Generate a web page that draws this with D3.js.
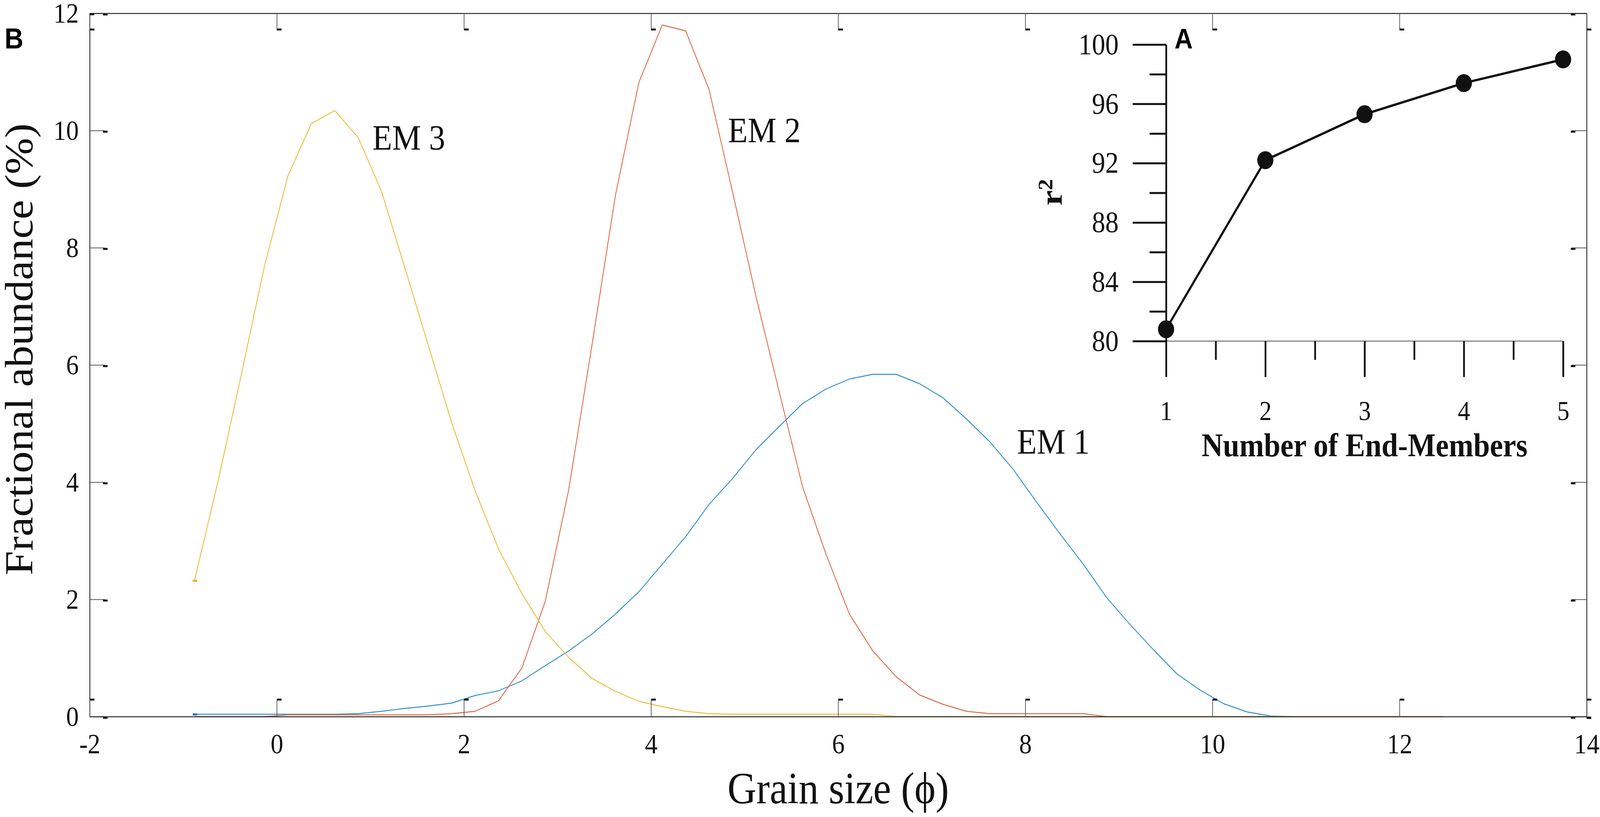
<!DOCTYPE html>
<html>
<head>
<meta charset="utf-8">
<script src="https://cdn.jsdelivr.net/npm/d3@7"></script>
<style>
  html, body { margin: 0; padding: 0; background: #fff; overflow: hidden; }
  .graph_area { width: 100vw; height: 100vh; }
  .graph_area text { font-family: "Liberation Serif", "Times New Roman", serif; }
</style>
</head>
<body>
<div class="graph_area"></div>
<script>
// grain size grid (phi)
const grainSize = [-0.88, -0.63, -0.38, -0.13, 0.12, 0.37, 0.62, 0.87, 1.12, 1.37,
  1.62, 1.87, 2.12, 2.37, 2.62, 2.87, 3.12, 3.37, 3.62, 3.87,
  4.12, 4.37, 4.62, 4.87, 5.12, 5.37, 5.62, 5.87, 6.12, 6.37,
  6.62, 6.87, 7.12, 7.37, 7.62, 7.87, 8.12, 8.37, 8.62, 8.87,
  9.12, 9.37, 9.62, 9.87, 10.12, 10.37, 10.62, 10.87, 11.12, 11.37,
  11.62, 11.87, 12.12, 12.47]

const em1 = [0.04, 0.04, 0.04, 0.04, 0.04, 0.04, 0.04, 0.05, 0.09, 0.14,
  0.18, 0.23, 0.36, 0.44, 0.61, 0.87, 1.12, 1.41, 1.75, 2.13,
  2.60, 3.07, 3.62, 4.06, 4.55, 4.95, 5.34, 5.59, 5.76, 5.84,
  5.84, 5.68, 5.44, 5.08, 4.69, 4.22, 3.66, 3.12, 2.60, 2.03,
  1.57, 1.14, 0.73, 0.45, 0.22, 0.08, 0.01, 0, 0, 0,
  0, 0, 0, 0]

const em2 = [0, 0, 0, 0, 0.03, 0.03, 0.03, 0.03, 0.03, 0.03,
  0.03, 0.05, 0.09, 0.27, 0.83, 1.97, 3.87, 6.35, 8.9, 10.82,
  11.8, 11.7, 10.7, 8.96, 7.18, 5.54, 3.92, 2.77, 1.75, 1.12,
  0.68, 0.37, 0.21, 0.09, 0.05, 0.05, 0.05, 0.05, 0.05, 0,
  0, 0, 0, 0, 0, 0, 0, 0, 0, 0,
  0, 0, 0, 0]

const em3 = [2.32, 4.00, 5.83, 7.70, 9.23, 10.12, 10.34, 9.88, 8.96, 7.65,
  6.33, 5.01, 3.85, 2.86, 2.10, 1.45, 1.01, 0.65, 0.43, 0.26,
  0.17, 0.09, 0.05, 0.04, 0.04, 0.04, 0.04, 0.04, 0.04, 0.04,
  0, 0, 0, 0, 0, 0, 0, 0, 0, 0,
  0, 0, 0, 0, 0, 0, 0, 0, 0, 0,
  0, 0, 0, 0]

const seriesNames = ["EM 1", "EM 2", "EM 3"]
const seriesColors = ["#2f8fd0", "#de6a45", "#eebb3a"]

const xTicks = [-2, 0, 2, 4, 6, 8, 10, 12, 14]
const yTicks = [0, 2, 4, 6, 8, 10, 12]

// inset (A)
const endMembers = [1, 2, 3, 4, 5]
const rSquared = [80.8, 92.2, 95.3, 97.4, 99.0]
const insetXMajor = [1, 2, 3, 4, 5]
const insetXMinor = [1.5, 2.5, 3.5, 4.5]
const insetYMajor = [80, 84, 88, 92, 96, 100]
const insetYMinor = [82, 86, 90, 94, 98]

const W = 4550, H = 2091

// draw in a fixed 4550x2091 coordinate space, stretched to the window
const svg = d3.select('.graph_area')
  .append('svg')
  .attr('viewBox', `0 0 ${W} ${H}`)
  .attr('preserveAspectRatio', 'none')
  .attr('width', '100%')
  .attr('height', '100%')
  .style('display', 'block')

svg.append('rect').attr('width', W).attr('height', H).attr('fill', '#fff')

const xScale = d3.scaleLinear().domain([-2, 14]).range([255, 4512])
const yScale = d3.scaleLinear().domain([0, 12]).range([1834, 34])

// curves
const series = [em1, em2, em3]
const line = d3.line()
  .x((d, i) => xScale(grainSize[i]))
  .y(d => yScale(d))

svg.append('g').selectAll('path')
  .data(series)
  .join('path')
  .attr('d', d => line(d))
  .attr('fill', 'none')
  .attr('stroke', (d, i) => seriesColors[i])
  .attr('stroke-width', 2.4)
  .attr('stroke-linejoin', 'round')

// small start flags at the first point of each curve
svg.append('g').selectAll('rect')
  .data([em1, em3])
  .join('rect')
  .attr('x', xScale(grainSize[0]) - 5)
  .attr('y', d => yScale(d[0]) - 2)
  .attr('width', 13)
  .attr('height', 5)
  .attr('fill', (d, i) => i === 0 ? '#1f6fb8' : '#e9a820')

// axes box with inward ticks
function styleAxis(g, flagX, flagY) {
  g.select('.domain').attr('stroke', '#2b2b2b').attr('stroke-width', 2.5)
  g.selectAll('.tick line').attr('stroke', '#555').attr('stroke-width', 2)
  g.selectAll('.tick').append('rect')
    .attr('x', flagX).attr('y', flagY)
    .attr('width', 13).attr('height', 5)
    .attr('fill', '#111')
  g.selectAll('.tick text')
    .attr('fill', '#111')
    .style('font-size', '72px')
    .style('font-family', '"Liberation Serif", serif')
}

const gLeft = svg.append('g')
  .attr('transform', `translate(${xScale(-2)},0)`)
  .call(d3.axisLeft(yScale).tickValues(yTicks).tickSize(-43).tickSizeOuter(0).tickPadding(31))
styleAxis(gLeft, 38, 0)

const gRight = svg.append('g')
  .attr('transform', `translate(${xScale(14)},0)`)
  .call(d3.axisRight(yScale).tickValues(yTicks).tickSize(-42).tickSizeOuter(0).tickFormat(''))
styleAxis(gRight, -45, 0)

const gBottom = svg.append('g')
  .attr('transform', `translate(0,${yScale(0)})`)
  .call(d3.axisBottom(xScale).tickValues(xTicks).tickSize(-43).tickSizeOuter(0).tickPadding(43).tickFormat(d3.format('d')))
styleAxis(gBottom, 0, -46)
gBottom.selectAll('.tick text').text(d => d < 0 ? '-' + Math.abs(d) : d)

const gTop = svg.append('g')
  .attr('transform', `translate(0,${yScale(12)})`)
  .call(d3.axisTop(xScale).tickValues(xTicks).tickSize(-43).tickSizeOuter(0).tickFormat(''))
styleAxis(gTop, 0, 39)

// corner flags
svg.append('rect').attr('x', xScale(-2)).attr('y', yScale(12)).attr('width', 13).attr('height', 5).attr('fill', '#111')
svg.append('rect').attr('x', xScale(14)).attr('y', yScale(0)).attr('width', 13).attr('height', 6).attr('fill', '#111')

// axis titles
svg.append('text')
  .attr('transform', 'translate(92,894) rotate(-90)')
  .attr('text-anchor', 'middle')
  .style('font-size', '112px')
  .attr('fill', '#111')
  .text('Fractional abundance (%)')

svg.append('text')
  .attr('x', (xScale(-2) + xScale(14)) / 2)
  .attr('y', 2056)
  .attr('text-anchor', 'middle')
  .style('font-size', '114px')
  .attr('fill', '#111')
  .text('Grain size (\u03D5)')

svg.append('text')
  .attr('x', 13).attr('y', 124)
  .style('font-family', '"Liberation Sans", Arial, sans-serif')
  .style('font-weight', 'bold')
  .style('font-size', '74px')
  .attr('fill', '#000')
  .text('B')

// curve labels
const labelPos = [[2892, 1161], [2070, 364], [1059, 383]]
svg.append('g').selectAll('text')
  .data(seriesNames)
  .join('text')
  .attr('x', (d, i) => labelPos[i][0])
  .attr('y', (d, i) => labelPos[i][1])
  .style('font-size', '92px')
  .attr('fill', '#111')
  .text(d => d)

// ---- inset A ----
const xi = d3.scaleLinear().domain([1, 5]).range([3316, 4445])
const yi = d3.scaleLinear().domain([80, 100]).range([873, 114])

function styleInset(g) {
  g.selectAll('.tick line').attr('stroke', '#111').attr('stroke-width', 5)
  g.selectAll('.tick text')
    .attr('fill', '#111')
    .style('font-family', '"Liberation Serif", serif')
}

// thin baseline
svg.append('line')
  .attr('x1', xi(1)).attr('x2', xi(5))
  .attr('y1', yi(80)).attr('y2', yi(80))
  .attr('stroke', '#555').attr('stroke-width', 2)

const giyMinor = svg.append('g')
  .attr('transform', `translate(${xi(1)},0)`)
  .call(d3.axisLeft(yi).tickValues(insetYMinor).tickSize(47).tickSizeOuter(0).tickFormat(''))
giyMinor.select('.domain').remove()
styleInset(giyMinor)

const giyMajor = svg.append('g')
  .attr('transform', `translate(${xi(1)},0)`)
  .call(d3.axisLeft(yi).tickValues(insetYMajor).tickSize(95).tickSizeOuter(0).tickPadding(40))
giyMajor.select('.domain').attr('stroke', '#111').attr('stroke-width', 5)
styleInset(giyMajor)
giyMajor.selectAll('.tick text').style('font-size', '76px')

const gixMinor = svg.append('g')
  .attr('transform', `translate(0,${yi(80)})`)
  .call(d3.axisBottom(xi).tickValues(insetXMinor).tickSize(48).tickSizeOuter(0).tickFormat(''))
gixMinor.select('.domain').remove()
styleInset(gixMinor)

const gixMajor = svg.append('g')
  .attr('transform', `translate(0,${yi(80)})`)
  .call(d3.axisBottom(xi).tickValues(insetXMajor).tickSize(92).tickSizeOuter(0).tickPadding(60).tickFormat(d3.format('d')))
gixMajor.select('.domain').remove()
styleInset(gixMajor)
gixMajor.selectAll('.tick text').style('font-size', '70px')

const insetLine = d3.line()
  .x((d, i) => xi(endMembers[i]))
  .y(d => yi(d))

svg.append('path')
  .datum(rSquared)
  .attr('d', insetLine)
  .attr('fill', 'none')
  .attr('stroke', '#111')
  .attr('stroke-width', 6)

svg.append('g').selectAll('circle')
  .data(rSquared)
  .join('circle')
  .attr('cx', (d, i) => xi(endMembers[i]))
  .attr('cy', d => yi(d))
  .attr('r', 23)
  .attr('fill', '#111')

svg.append('text')
  .attr('x', (xi(1) + xi(5)) / 2)
  .attr('y', 1168)
  .attr('text-anchor', 'middle')
  .style('font-weight', 'bold')
  .style('font-size', '84px')
  .attr('fill', '#111')
  .text('Number of End-Members')

const r2 = svg.append('text')
  .attr('transform', 'translate(3019,492) rotate(-90)')
  .attr('text-anchor', 'middle')
  .style('font-weight', 'bold')
  .style('font-size', '88px')
  .attr('fill', '#111')
r2.append('tspan').text('r')
r2.append('tspan').attr('dy', '-0.45em').style('font-size', '58px').text('2')

svg.append('text')
  .attr('x', 3340).attr('y', 124)
  .style('font-family', '"Liberation Sans", Arial, sans-serif')
  .style('font-weight', 'bold')
  .style('font-size', '72px')
  .attr('fill', '#000')
  .text('A')
</script>
</body>
</html>
